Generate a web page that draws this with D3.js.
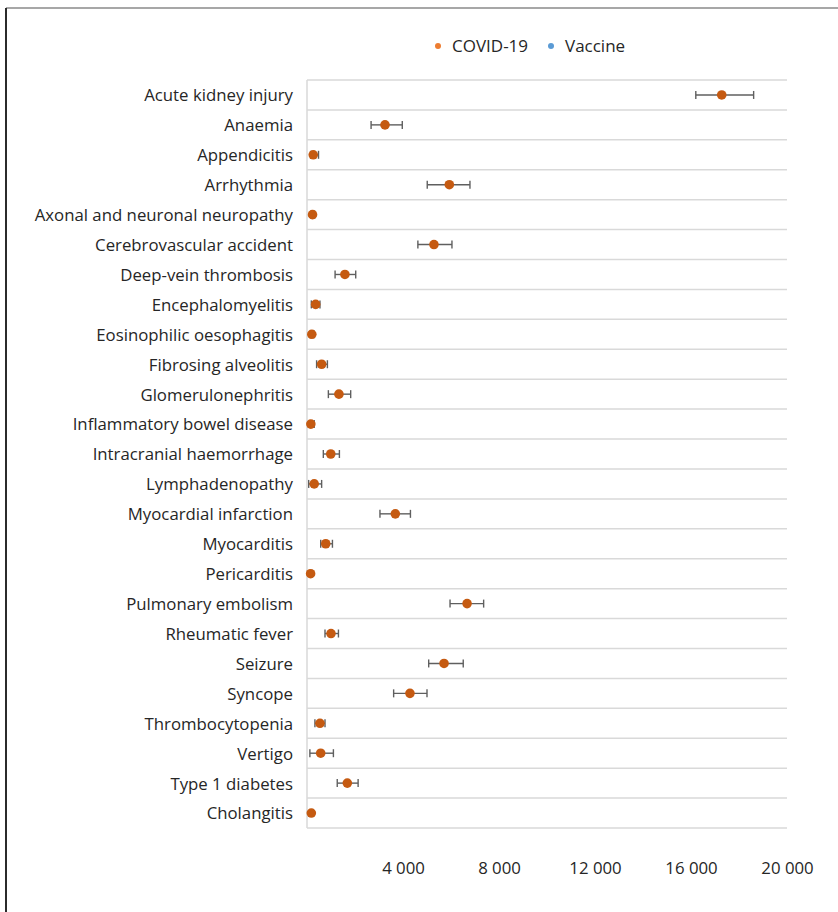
<!DOCTYPE html>
<html>
<head>
<meta charset="utf-8">
<script src="https://cdn.jsdelivr.net/npm/d3@7"></script>
<style>
  html, body { margin: 0; padding: 0; background: #fff; }
  svg { display: block; font-family: "Open Sans", "Noto Sans", sans-serif; }
</style>
</head>
<body>
<svg id="chart" width="838" height="912"></svg>
<script>
// Conditions, top to bottom
const categories = [
  "Acute kidney injury", "Anaemia", "Appendicitis", "Arrhythmia",
  "Axonal and neuronal neuropathy", "Cerebrovascular accident",
  "Deep-vein thrombosis", "Encephalomyelitis", "Eosinophilic oesophagitis",
  "Fibrosing alveolitis", "Glomerulonephritis", "Inflammatory bowel disease",
  "Intracranial haemorrhage", "Lymphadenopathy", "Myocardial infarction",
  "Myocarditis", "Pericarditis", "Pulmonary embolism", "Rheumatic fever",
  "Seizure", "Syncope", "Thrombocytopenia", "Vertigo", "Type 1 diabetes",
  "Cholangitis"
];

// COVID-19 estimates with lower / upper interval bounds
const covidValues = [17280, 3250, 260, 5930, 230, 5290, 1580, 360, 200, 610, 1330, 160, 990, 300, 3680, 780, 150, 6670, 1000, 5710, 4290, 540, 570, 1680, 180];
const covidLower  = [16200, 2670, 150, 5010, 160, 4620, 1170, 180, 140, 400,  890, 100, 680,  70, 3040, 570, 110, 5960,  750, 5070, 3610, 330, 120, 1260, 130];
const covidUpper  = [18610, 3970, 480, 6790, 320, 6040, 2030, 540, 290, 850, 1820, 300, 1350, 610, 4310, 1060, 200, 7360, 1310, 6510, 5000, 750, 1100, 2130, 240];

const xTicks = [4000, 8000, 12000, 16000, 20000];
const seriesNames = ["COVID-19", "Vaccine"];
const seriesColors = ["#ed7d31", "#5b9bd5"];

const svg = d3.select("#chart");

const x = d3.scaleLinear().domain([0, 20000]).range([307, 787]);
const y = d3.scaleBand().domain(categories).range([80, 828]).padding(0);

// outer frame
svg.append("line").attr("x1", 6).attr("x2", 838).attr("y1", 8).attr("y2", 8)
  .attr("stroke", "#8a8a8a").attr("stroke-width", 1.5);
svg.append("line").attr("x1", 6).attr("x2", 6).attr("y1", 8).attr("y2", 912)
  .attr("stroke", "#2b2b2b").attr("stroke-width", 2);

// row separators
const bounds = categories.map(c => y(c)).concat([y.range()[1]]);
svg.append("g").selectAll("line").data(bounds).join("line")
  .attr("x1", x(0)).attr("x2", x(20000))
  .attr("y1", d => d).attr("y2", d => d)
  .attr("stroke", "#d9d9d9").attr("stroke-width", 1.5);

// left axis line
svg.append("line").attr("x1", x(0)).attr("x2", x(0))
  .attr("y1", y.range()[0]).attr("y2", y.range()[1])
  .attr("stroke", "#d9d9d9").attr("stroke-width", 1.5);

// category labels
const yAxis = d3.axisLeft(y).tickSize(0).tickPadding(14);
const gy = svg.append("g").attr("transform", `translate(${x(0)},1)`).call(yAxis);
gy.select(".domain").remove();
gy.selectAll("text").attr("font-size", 16.8).attr("fill", "#262626")
  .attr("font-family", "'Open Sans', sans-serif");

// x tick labels
const xAxis = d3.axisBottom(x).tickValues(xTicks).tickSize(0).tickPadding(0)
  .tickFormat(v => d3.format(",")(v).replace(/,/g, " "));
const gx = svg.append("g").attr("transform", "translate(0,862)").call(xAxis);
gx.select(".domain").remove();
gx.selectAll("text").attr("font-size", 16.8).attr("fill", "#262626")
  .attr("font-family", "'Open Sans', sans-serif");

// error bars
const cap = 4;
const eb = svg.append("g").attr("stroke", "#5f5f5f").attr("stroke-width", 1.4);
categories.forEach((c, i) => {
  const cy = y(c) + y.bandwidth() / 2;
  eb.append("line").attr("x1", x(covidLower[i])).attr("x2", x(covidUpper[i]))
    .attr("y1", cy).attr("y2", cy);
  eb.append("line").attr("x1", x(covidLower[i])).attr("x2", x(covidLower[i]))
    .attr("y1", cy - cap).attr("y2", cy + cap);
  eb.append("line").attr("x1", x(covidUpper[i])).attr("x2", x(covidUpper[i]))
    .attr("y1", cy - cap).attr("y2", cy + cap);
});

// points
svg.append("g").selectAll("circle").data(categories).join("circle")
  .attr("cx", (c, i) => x(covidValues[i]))
  .attr("cy", c => y(c) + y.bandwidth() / 2)
  .attr("r", 4.8)
  .attr("fill", "#c55a11");

// legend
const legendX = [438, 551];
const lg = svg.append("g");
seriesNames.forEach((name, i) => {
  lg.append("circle").attr("cx", legendX[i]).attr("cy", 46).attr("r", 3)
    .attr("fill", seriesColors[i]);
  lg.append("text").attr("x", legendX[i] + 14).attr("y", 46).attr("dy", "0.35em")
    .attr("font-size", 17).attr("fill", "#262626")
    .attr("font-family", "'Open Sans', sans-serif")
    .text(name);
});
</script>
</body>
</html>
